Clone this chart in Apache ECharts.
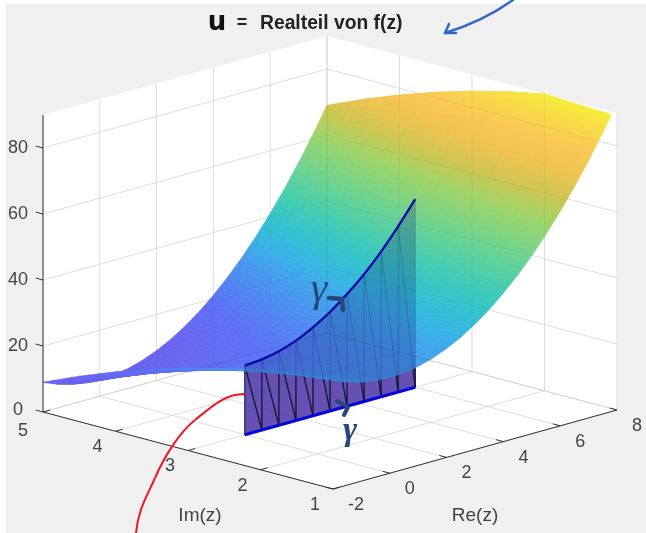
<!DOCTYPE html>
<html><head><meta charset="utf-8">
<style>html,body{margin:0;padding:0;background:#fff}#c{width:646px;height:533px}</style>
<script src="https://cdn.jsdelivr.net/npm/echarts@6/dist/echarts.min.js"></script>
</head><body><div id="c"></div>
<script>
// ---- data ----
const reValues=[-2,-1.5,-1,-0.5,0,0.5,1,1.5,2,2.5,3,3.5,4,4.5,5,5.5,6,6.5,7,7.5,8];
const imValues=[1,1.5,2,2.5,3,3.5,4,4.5,5];
const uIm1  =[33,31.25,30,29.25,29,29.25,30,31.25,33,35.25,38,41.25,45,49.25,54,59.25,65,71.25,78,85.25,93];
const uIm1_5=[31.75,30,28.75,28,27.75,28,28.75,30,31.75,34,36.75,40,43.75,48,52.75,58,63.75,70,76.75,84,91.75];
const uIm2  =[30,28.25,27,26.25,26,26.25,27,28.25,30,32.25,35,38.25,42,46.25,51,56.25,62,68.25,75,82.25,90];
const uIm2_5=[27.75,26,24.75,24,23.75,24,24.75,26,27.75,30,32.75,36,39.75,44,48.75,54,59.75,66,72.75,80,87.75];
const uIm3  =[25,23.25,22,21.25,21,21.25,22,23.25,25,27.25,30,33.25,37,41.25,46,51.25,57,63.25,70,77.25,85];
const uIm3_5=[21.75,20,18.75,18,17.75,18,18.75,20,21.75,24,26.75,30,33.75,38,42.75,48,53.75,60,66.75,74,81.75];
const uIm4  =[18,16.25,15,14.25,14,14.25,15,16.25,18,20.25,23,26.25,30,34.25,39,44.25,50,56.25,63,70.25,78];
const uIm4_5=[13.75,12,10.75,10,9.75,10,10.75,12,13.75,16,18.75,22,25.75,30,34.75,40,45.75,52,58.75,66,73.75];
const uIm5  =[9,7.25,6,5.25,5,5.25,6,7.25,9,11.25,14,17.25,21,25.25,30,35.25,41,47.25,54,61.25,69];
const uRows=[uIm1,uIm1_5,uIm2,uIm2_5,uIm3,uIm3_5,uIm4,uIm4_5,uIm5];
const gammaIm=3;
const gammaRe=[0,0.6,1.2,1.8,2.4,3,3.6,4.2,4.8,5.4,6];
const gammaU=[21,21.4,22.4,24.2,26.8,30,34,38.6,44,50.2,57];
const reTicks=[-2,0,2,4,6,8];
const imTicks=[1,2,3,4,5];
const uTicks=[0,20,40,60,80];
const uMax=90;
const colorU=[5,12,20,30,35,40,46,55,62,68,74,80,86,90];
const colorR=[105,105,92,70,55,50,70,120,160,205,240,250,248,245];
const colorG=[95,100,112,155,180,195,205,212,212,198,195,200,220,238];
const colorB=[235,240,245,238,230,205,175,135,105,80,80,85,70,55];
const titleText='Realteil von f(z)';
// ---- view of the 3-D box ----
function P(re,im,u){return [333+(re+2)*28.4-(im-1)*72.5, 489-(re+2)*7.9-(im-1)*19.25-u*3.3];}
const FONT='"Liberation Sans",Arial,sans-serif';
function colorOf(u){
  let i=0;while(i<colorU.length-2&&u>colorU[i+1])i++;
  let t=Math.max(0,Math.min(1,(u-colorU[i])/(colorU[i+1]-colorU[i])));
  const m=a=>Math.round(a[i]+(a[i+1]-a[i])*t);
  return 'rgb('+m(colorR)+','+m(colorG)+','+m(colorB)+')';
}
function clipTop(poly){
  const out=[];
  for(let i=0;i<poly.length;i++){
    const a=poly[i],b=poly[(i+1)%poly.length];
    if(a[2]<=uMax)out.push(a);
    if((a[2]<=uMax)!==(b[2]<=uMax)){
      const t=(uMax-a[2])/(b[2]-a[2]);
      out.push([a[0]+(b[0]-a[0])*t,a[1]+(b[1]-a[1])*t,uMax]);
    }
  }
  return out;
}
function toPts(api,poly){return poly.map(p=>api.coord(P(p[0],p[1],p[2])));}
function line(api,a,b,st){
  const s=api.coord(P(a[0],a[1],a[2])),e=api.coord(P(b[0],b[1],b[2]));
  return {type:'line',shape:{x1:s[0],y1:s[1],x2:e[0],y2:e[1]},style:st};
}
function surfaceCells(api,front){
  const ch=[],n=4;
  for(let r=reValues.length-2;r>=0;r--){
    for(let q=imValues.length-2;q>=0;q--){
      const isFront=imValues[q]<gammaIm;
      if(isFront!==front)continue;
      const x0=reValues[r],x1=reValues[r+1],y0=imValues[q],y1=imValues[q+1];
      const a=uRows[q][r],b=uRows[q][r+1],c=uRows[q+1][r],d=uRows[q+1][r+1];
      const f=(s,t)=>[x0+(x1-x0)*s,y0+(y1-y0)*t,(a*(1-s)+b*s)*(1-t)+(c*(1-s)+d*s)*t];
      for(let i=n-1;i>=0;i--)for(let j=n-1;j>=0;j--){
        const poly=clipTop([f(i/n,j/n),f((i+1)/n,j/n),f((i+1)/n,(j+1)/n),f(i/n,(j+1)/n)]);
        if(poly.length<3)continue;
        const col=colorOf(f((i+.5)/n,(j+.5)/n)[2]);
        ch.push({type:'polygon',shape:{points:toPts(api,poly)},style:{fill:col,stroke:col,lineWidth:0.7}});
      }
    }
  }
  return {type:'group',children:ch};
}
function wallsItem(api){
  const pts=[[-2,5,0],[-2,5,uMax],[8,5,uMax],[8,1,uMax],[8,1,0],[-2,1,0]];
  return {type:'polygon',shape:{points:toPts(api,pts)},style:{fill:'#fff'}};
}
function gridItem(color,w){return function(api){
  const st={stroke:color,lineWidth:w},ch=[];
  reTicks.forEach(x=>{ch.push(line(api,[x,1,0],[x,5,0],st));ch.push(line(api,[x,5,0],[x,5,uMax],st));});
  imTicks.forEach(y=>{ch.push(line(api,[-2,y,0],[8,y,0],st));ch.push(line(api,[8,y,0],[8,y,uMax],st));});
  uTicks.forEach(z=>{ch.push(line(api,[-2,5,z],[8,5,z],st));ch.push(line(api,[8,5,z],[8,1,z],st));});
  return {type:'group',children:ch};
};}
function curtain(fill,mesh,mw,edge){return function(api){
  const ch=[],top=gammaRe.map((x,i)=>[x,gammaIm,gammaU[i]]),bot=gammaRe.map(x=>[x,gammaIm,0]).reverse();
  ch.push({type:'polygon',shape:{points:toPts(api,top.concat(bot))},style:{fill:fill}});
  gammaRe.forEach((x,i)=>{
    ch.push(line(api,[x,gammaIm,0],[x,gammaIm,gammaU[i]],{stroke:(i===0)?edge:mesh,lineWidth:mw}));
    if(i<gammaRe.length-1)ch.push(line(api,[x,gammaIm,gammaU[i]],[gammaRe[i+1],gammaIm,0],{stroke:mesh,lineWidth:mw}));
  });
  return {type:'group',children:ch};
};}
function gammaLines(api){
  const top=toPts(api,gammaRe.map((x,i)=>[x,gammaIm,gammaU[i]]));
  const s=api.coord(P(gammaRe[0],gammaIm,0)),e=api.coord(P(gammaRe[gammaRe.length-1],gammaIm,0));
  return {type:'group',children:[
    {type:'polyline',shape:{points:top,smooth:0.3},style:{fill:null,stroke:'#0a0aa8',lineWidth:2.4}},
    {type:'line',shape:{x1:s[0],y1:s[1],x2:e[0],y2:e[1]},style:{stroke:'#0505d8',lineWidth:3}}
  ]};
}
function txt(api,p,dx,dy,t,size){
  const c=api.coord(p);
  return {type:'text',style:{x:c[0]+dx,y:c[1]+dy,text:String(t),fill:'#444',fontSize:size||18,fontFamily:FONT,align:'center',verticalAlign:'middle'}};
}
function axesItem(api){
  const st={stroke:'#333',lineWidth:1},ch=[];
  ch.push(line(api,[-2,5,0],[-2,5,uMax],st));
  ch.push(line(api,[-2,5,0],[-2,1,0],st));
  ch.push(line(api,[-2,1,0],[8,1,0],st));
  uTicks.forEach(z=>{ch.push(line(api,[-2,5,z],[-2,5.1,z],st));
    ch.push(txt(api,P(-2,5,z),-25,z===0?-2:0,z));});
  reTicks.forEach(x=>{ch.push(line(api,[x,1,0],[x,1.1,0],st));
    ch.push(txt(api,P(x,1,0),x<0?23:20,16,x));});
  imTicks.forEach(y=>{ch.push(line(api,[-2,y,0],[-1.75,y,0],st));
    ch.push(txt(api,P(-2,y,0),y===5?-20:-18,y===5?19:16,y));});
  ch.push(txt(api,P(-2,3,0),12,65,'Im(z)',19));
  ch.push(txt(api,P(3,1,0),0,66,'Re(z)',19));
  return {type:'group',children:ch};
}
const layers=[wallsItem,gridItem('#e8e8e8',1),
  api=>surfaceCells(api,false),
  curtain('rgb(130,93,200)','#111',1.3,'#3c3c78'),
  api=>surfaceCells(api,true),
  curtain('rgba(30,50,130,0.28)','rgba(0,20,60,0.28)',0.7,'rgba(30,30,100,0.6)'),
  gridItem('rgba(0,0,0,0.04)',1),
  gammaLines,axesItem];
const series=layers.map((fn,i)=>({type:'custom',coordinateSystem:'cartesian2d',z:i+2,silent:true,animation:false,clip:false,
  data:[[0,0]],renderItem:(p,api)=>fn(api)}));
const navy='#24477c';
const red={fill:null,stroke:'#f01525',lineWidth:2};
const blue={fill:null,stroke:'#3068c8',lineWidth:2.5,lineCap:'round'};
const chart=echarts.init(document.getElementById('c'),null,{renderer:'canvas'});
chart.setOption({
  animation:false,backgroundColor:'#fff',
  grid:{left:0,right:0,top:0,bottom:0},
  xAxis:{type:'value',min:0,max:646,show:false},
  yAxis:{type:'value',min:0,max:533,inverse:true,show:false},
  title:{text:titleText,left:260,top:14,padding:0,textStyle:{fontFamily:FONT,fontWeight:'bold',fontSize:19.3,color:'#222'}},
  series:series,
  graphic:{elements:[
    {type:'rect',z:-1,silent:true,shape:{x:6,y:4,width:640,height:529},style:{fill:'#f0f0f0'}},
    {type:'text',z:50,style:{x:217,y:23,text:'u',fill:'#111',fontFamily:'"DejaVu Sans"',fontWeight:'bold',fontSize:26,align:'center',verticalAlign:'middle'}},
    {type:'text',z:50,style:{x:242,y:23,text:'=',fill:'#222',fontFamily:FONT,fontWeight:'bold',fontSize:18,align:'center',verticalAlign:'middle'}},
    {type:'bezierCurve',z:50,silent:true,shape:{x1:246,y1:394,cpx1:225,cpy1:393,cpx2:210,cpy2:408,x2:195,y2:420},style:red},
    {type:'bezierCurve',z:50,silent:true,shape:{x1:195,y1:420,cpx1:180,cpy1:432,cpx2:165,cpy2:455,x2:155,y2:478},style:red},
    {type:'bezierCurve',z:50,silent:true,shape:{x1:155,y1:478,cpx1:147,cpy1:496,cpx2:138,cpy2:510,x2:136,y2:533},style:red},
    {type:'bezierCurve',z:50,silent:true,shape:{x1:513,y1:0,cpx1:492,cpy1:15,cpx2:468,cpy2:26,x2:445,y2:33},style:blue},
    {type:'polyline',z:50,silent:true,shape:{points:[[449,24],[445,33],[456,33]]},style:{fill:null,stroke:'#3068c8',lineWidth:2.5,lineJoin:'round',lineCap:'round'}},
    {type:'text',z:50,style:{x:319,y:290,text:'γ',fill:navy,fontFamily:'"Liberation Serif"',fontStyle:'italic',fontSize:42,align:'center',verticalAlign:'middle'}},
    {type:'text',z:50,style:{x:350,y:431,text:'γ',fill:navy,fontFamily:'"Liberation Serif"',fontStyle:'italic',fontWeight:'bold',fontSize:34,align:'center',verticalAlign:'middle'}},
    {type:'polyline',z:50,silent:true,shape:{points:[[329,298],[342,299],[343,310]]},style:{fill:null,stroke:navy,lineWidth:4.5,lineCap:'round',lineJoin:'round'}},
    {type:'polyline',z:50,silent:true,shape:{points:[[337,401],[348,407],[344,415]]},style:{fill:null,stroke:navy,lineWidth:4,lineCap:'round',lineJoin:'round'}}
  ]}
});
</script></body></html>
